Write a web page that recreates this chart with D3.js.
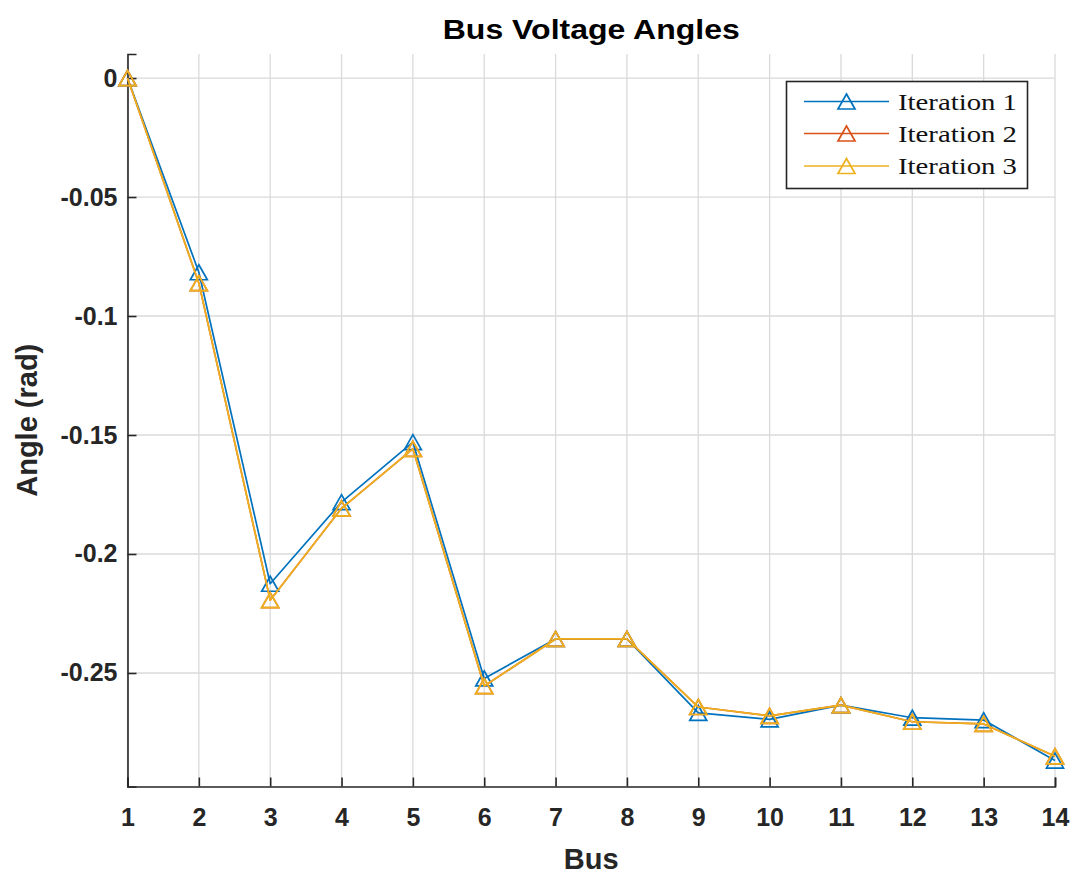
<!DOCTYPE html>
<html>
<head>
<meta charset="utf-8">
<script src="https://cdn.jsdelivr.net/npm/d3@7"></script>
<style>
  html, body { margin: 0; padding: 0; background: #fff; }
  svg { display: block; }
</style>
</head>
<body>
<svg id="chart" width="1074" height="875"></svg>
<script>
// Bus numbers of the 14-bus system
const buses = [1, 2, 3, 4, 5, 6, 7, 8, 9, 10, 11, 12, 13, 14];

// Voltage angles (rad) after each iteration
const iteration1 = [0, -0.0816, -0.2125, -0.1782, -0.1530, -0.2523, -0.2357, -0.2357, -0.2668, -0.2695, -0.2635, -0.2688, -0.2698, -0.2868];
const iteration2 = [0, -0.0862, -0.2194, -0.1808, -0.1558, -0.2555, -0.2357, -0.2357, -0.2643, -0.2680, -0.2635, -0.2705, -0.2714, -0.2850];
const iteration3 = [0, -0.0862, -0.2194, -0.1808, -0.1558, -0.2555, -0.2357, -0.2357, -0.2643, -0.2680, -0.2635, -0.2705, -0.2714, -0.2850];

const seriesNames = ["Iteration 1", "Iteration 2", "Iteration 3"];
const seriesColors = ["#0072BD", "#D95319", "#EDB120"];

const yTicks = [0, -0.05, -0.1, -0.15, -0.2, -0.25];
const yTickLabels = ["0", "-0.05", "-0.1", "-0.15", "-0.2", "-0.25"];

const series = [iteration1, iteration2, iteration3].map((vals, i) => ({
  name: seriesNames[i],
  color: seriesColors[i],
  points: buses.map((b, j) => ({ bus: b, angle: vals[j] }))
}));

const svg = d3.select("#chart");
const plotBox = { left: 127.5, right: 1055, top: 54, bottom: 786.5 };

const x = d3.scaleLinear().domain([1, 14]).range([plotBox.left, plotBox.right]);
const y = d3.scaleLinear().domain([-0.2977, 0.0101]).range([plotBox.bottom, plotBox.top]);

const axisColor = "#262626";
const gridColor = "#dadada";
const sansBold = "'Liberation Sans', Arial, Helvetica, sans-serif";

// grid
const grid = svg.append("g");
grid.selectAll("line.vx").data(buses).join("line")
  .attr("x1", d => x(d)).attr("x2", d => x(d))
  .attr("y1", plotBox.top).attr("y2", plotBox.bottom)
  .attr("stroke", gridColor).attr("stroke-width", 1.3);
grid.selectAll("line.hy").data(yTicks).join("line")
  .attr("x1", plotBox.left).attr("x2", plotBox.right)
  .attr("y1", d => y(d)).attr("y2", d => y(d))
  .attr("stroke", gridColor).attr("stroke-width", 1.3);

// axes with inward ticks
const xAxis = d3.axisBottom(x).tickValues(buses).tickSize(-9).tickFormat(d3.format("d"));
const yAxis = d3.axisLeft(y).tickValues(yTicks).tickSize(-9)
  .tickFormat((d, i) => yTickLabels[i]);

const gx = svg.append("g").attr("transform", `translate(0,${plotBox.bottom})`).call(xAxis);
const gy = svg.append("g").attr("transform", `translate(${plotBox.left},0)`).call(yAxis);
[gx, gy].forEach(g => {
  g.select(".domain").attr("stroke", axisColor).attr("stroke-width", 1.6);
  g.selectAll(".tick line").attr("stroke", axisColor).attr("stroke-width", 1.6);
  g.selectAll(".tick text")
    .attr("fill", axisColor)
    .style("font-family", sansBold)
    .style("font-weight", "bold")
    .style("font-size", "25px");
});
gx.selectAll(".tick text").attr("y", 22).attr("dy", "0.71em");
gy.selectAll(".tick text").attr("x", -10);

// lines and markers
const line = d3.line().x(d => x(d.bus)).y(d => y(d.angle));
const tri = (w, h) => `M0,${-h / 2}L${w / 2},${h / 2}L${-w / 2},${h / 2}Z`;
const markerPath = tri(17, 15);

const plot = svg.append("g");
series.forEach(s => {
  const g = plot.append("g");
  g.append("path").datum(s.points)
    .attr("d", line)
    .attr("fill", "none")
    .attr("stroke", s.color)
    .attr("stroke-width", 1.7)
    .attr("stroke-linejoin", "round");
  g.selectAll("path.mk").data(s.points).join("path")
    .attr("class", "mk")
    .attr("d", markerPath)
    .attr("transform", d => `translate(${x(d.bus)},${y(d.angle)})`)
    .attr("fill", "none")
    .attr("stroke", s.color)
    .attr("stroke-width", 1.7);
});

// title and axis labels
svg.append("text")
  .attr("x", (plotBox.left + plotBox.right) / 2).attr("y", 39)
  .attr("text-anchor", "middle")
  .attr("fill", "#000")
  .style("font-family", sansBold).style("font-weight", "bold").style("font-size", "28px")
  .attr("textLength", 297).attr("lengthAdjust", "spacingAndGlyphs")
  .text("Bus Voltage Angles");

svg.append("text")
  .attr("x", (plotBox.left + plotBox.right) / 2).attr("y", 869)
  .attr("text-anchor", "middle")
  .attr("fill", axisColor)
  .style("font-family", sansBold).style("font-weight", "bold").style("font-size", "29px")
  .text("Bus");

svg.append("text")
  .attr("transform", `translate(37,${(plotBox.top + plotBox.bottom) / 2}) rotate(-90)`)
  .attr("text-anchor", "middle")
  .attr("fill", axisColor)
  .style("font-family", sansBold).style("font-weight", "bold").style("font-size", "29px")
  .text("Angle (rad)");

// legend
const lg = svg.append("g");
lg.append("rect")
  .attr("x", 786.5).attr("y", 81.5).attr("width", 241).attr("height", 107)
  .attr("fill", "#fff").attr("stroke", axisColor).attr("stroke-width", 1.6);
const rowY = [101.5, 133.5, 166];
series.forEach((s, i) => {
  const yy = rowY[i];
  lg.append("line")
    .attr("x1", 804).attr("x2", 889).attr("y1", yy).attr("y2", yy)
    .attr("stroke", s.color).attr("stroke-width", 1.7);
  lg.append("path")
    .attr("d", markerPath)
    .attr("transform", `translate(846.5,${yy})`)
    .attr("fill", "none").attr("stroke", s.color).attr("stroke-width", 1.7);
  lg.append("text")
    .attr("x", 898).attr("y", yy + 8)
    .attr("fill", "#111")
    .style("font-family", "'Liberation Serif', 'Times New Roman', serif")
    .style("font-size", "24px")
    .attr("textLength", 119).attr("lengthAdjust", "spacingAndGlyphs")
    .text(s.name);
});
</script>
</body>
</html>
